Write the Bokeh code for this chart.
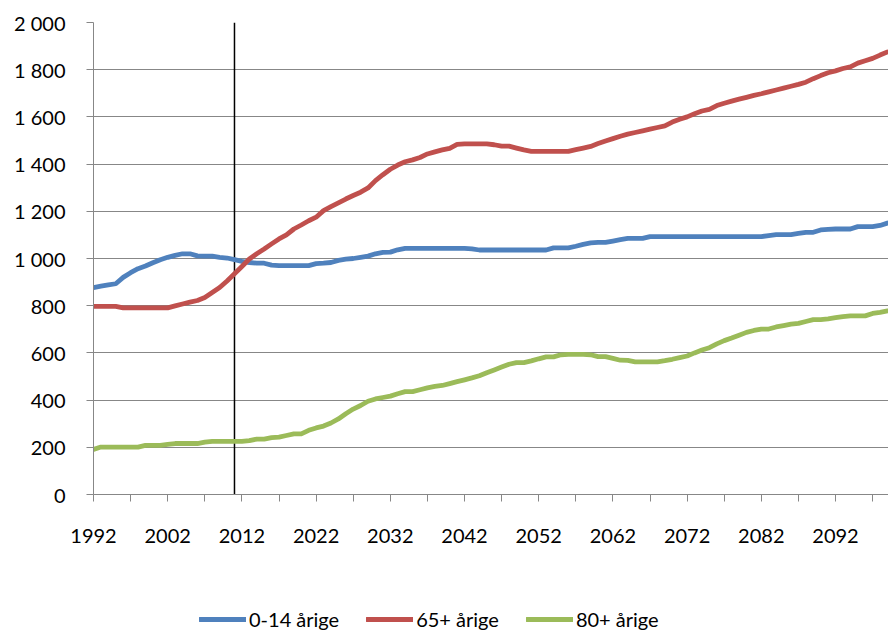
from bokeh.plotting import figure
from bokeh.models import Span, Legend, LegendItem, FixedTicker, Range1d
from bokeh.layouts import column
from bokeh.embed import file_html
from bokeh.resources import INLINE

years = list(range(1992, 2101))

age_0_14 = [
    877, 883, 888, 893, 920, 940, 957, 968, 982, 995,
    1005, 1013, 1020, 1020, 1011, 1010, 1010, 1005, 1002, 995,
    988, 983, 980, 980, 972, 970, 970, 970, 970, 970,
    978, 980, 983, 992, 997, 1000, 1005, 1010, 1020, 1026,
    1027, 1037, 1043, 1043, 1043, 1043, 1043, 1043, 1043, 1043,
    1043, 1041, 1036, 1036, 1036, 1036, 1036, 1036, 1036, 1036,
    1036, 1036, 1045, 1045, 1045, 1052, 1060, 1066, 1068, 1068,
    1074, 1080, 1085, 1085, 1085, 1093, 1093, 1093, 1093, 1093,
    1093, 1093, 1093, 1093, 1093, 1093, 1093, 1093, 1093, 1093,
    1093, 1097, 1101, 1101, 1101, 1106, 1111, 1111, 1121, 1123,
    1125, 1125, 1125, 1135, 1135, 1135, 1140, 1150, 1155,
]

age_65 = [
    797, 797, 797, 797, 791, 791, 791, 791, 791, 791,
    791, 799, 807, 815, 822, 835, 856, 877, 905, 935,
    966, 998, 1020, 1040, 1062, 1083, 1100, 1125, 1142, 1160,
    1175, 1203, 1220, 1236, 1252, 1267, 1281, 1299, 1330, 1355,
    1378, 1396, 1410, 1418, 1428, 1443, 1452, 1460, 1467, 1484,
    1486, 1486, 1486, 1486, 1482, 1476, 1476, 1468, 1460, 1454,
    1454, 1454, 1454, 1454, 1454, 1461, 1468, 1475, 1487, 1498,
    1508, 1518, 1527, 1534, 1541, 1548, 1555, 1562, 1578, 1590,
    1600, 1613, 1625, 1632, 1648, 1658, 1667, 1675, 1683, 1691,
    1698, 1706, 1714, 1722, 1730, 1738, 1747, 1762, 1775, 1787,
    1795, 1805, 1812, 1828, 1838, 1848, 1862, 1875, 1882,
]

age_80 = [
    191, 201, 201, 201, 201, 201, 201, 208, 208, 208,
    212, 216, 216, 216, 216, 222, 225, 225, 225, 225,
    225, 228, 235, 235, 241, 243, 250, 257, 257, 272,
    282, 290, 303, 320, 342, 362, 377, 395, 405, 411,
    417, 427, 436, 436, 444, 452, 458, 462, 470, 478,
    486, 494, 503, 516, 528, 540, 552, 559, 559, 566,
    575, 583, 583, 592, 594, 594, 594, 592, 584, 584,
    577, 569, 568, 562, 562, 562, 562, 567, 573, 580,
    587, 600, 612, 622, 638, 652, 663, 675, 687, 695,
    701, 701, 710, 716, 722, 725, 733, 741, 741, 744,
    749, 754, 757, 757, 757, 767, 772, 778, 782,
]

series_names = ["0-14 årige", "65+ årige", "80+ årige"]
series_colors = ["#4F81BD", "#C0504D", "#9BBB59"]

y_ticks = [0, 200, 400, 600, 800, 1000, 1200, 1400, 1600, 1800, 2000]
y_tick_labels = ["0", "200", "400", "600", "800", "1 000", "1 200",
                 "1 400", "1 600", "1 800", "2 000"]
x_label_years = list(range(1992, 2100, 10))
x_minor_years = list(range(1997, 2100, 10))
marker_year = 2011

FONT = "Lato"
GRID = "#878787"
LW = 4.8

p = figure(width=888, height=595,
           x_range=Range1d(1992, 2099.14), y_range=Range1d(0, 2000),
           output_backend="svg", toolbar_location=None,
           min_border_left=93, min_border_right=0,
           min_border_top=22, min_border_bottom=101)
p.outline_line_color = None
p.background_fill_color = "white"
p.border_fill_color = "white"

# axes
p.xaxis.ticker = FixedTicker(ticks=x_label_years, minor_ticks=x_minor_years)
p.xaxis.major_tick_in = 0
p.xaxis.major_tick_out = 7
p.xaxis.minor_tick_in = 0
p.xaxis.minor_tick_out = 7
p.xaxis.major_tick_line_color = GRID
p.xaxis.minor_tick_line_color = GRID
p.xaxis.axis_line_color = GRID
p.xaxis.major_label_standoff = 27
p.xaxis.major_label_text_font = FONT
p.xaxis.major_label_text_font_size = "20px"
p.xaxis.major_label_text_color = "black"

p.yaxis.ticker = FixedTicker(ticks=y_ticks, minor_ticks=[])
p.yaxis.major_label_overrides = {t: l for t, l in zip(y_ticks, y_tick_labels)}
p.yaxis.major_tick_in = 0
p.yaxis.major_tick_out = 7
p.yaxis.minor_tick_line_color = None
p.yaxis.major_tick_line_color = GRID
p.yaxis.axis_line_color = GRID
p.yaxis.major_label_standoff = 21
p.yaxis.major_label_text_font = FONT
p.yaxis.major_label_text_font_size = "20px"
p.yaxis.major_label_text_color = "black"

p.xgrid.visible = False
p.ygrid.ticker = FixedTicker(ticks=y_ticks, minor_ticks=[])
p.ygrid.grid_line_color = GRID
p.ygrid.grid_line_width = 1

p.add_layout(Span(location=marker_year, dimension="height",
                  line_color="black", line_width=1.5, level="underlay"))

for vals, col in zip([age_0_14, age_65, age_80], series_colors):
    p.line(years, vals, line_color=col, line_width=LW,
           line_cap="round", line_join="round")

# legend strip below the chart (series drawn outside its visible range)
lg = figure(width=888, height=36, x_range=Range1d(0, 1), y_range=Range1d(0, 1),
            output_backend="svg", toolbar_location=None,
            x_axis_location=None, y_axis_location=None,
            min_border_left=0, min_border_right=0,
            min_border_top=0, min_border_bottom=0)
lg.outline_line_color = None
lg.xgrid.visible = False
lg.ygrid.visible = False
items = []
for name, vals, col in zip(series_names, [age_0_14, age_65, age_80], series_colors):
    r = lg.line(years, vals, line_color=col, line_width=LW, line_cap="round")
    items.append(LegendItem(label=name, renderers=[r]))

legend = Legend(items=items, orientation="horizontal", location=(106, 0),
                border_line_color=None, background_fill_alpha=0,
                padding=0, margin=0, spacing=27, glyph_width=47,
                glyph_height=20, label_height=20, label_standoff=3,
                label_text_font=FONT, label_text_font_size="20px",
                label_text_color="black")
lg.add_layout(legend)

layout = column(p, lg, spacing=0)
open("out.html", "w").write(file_html(layout, INLINE))
